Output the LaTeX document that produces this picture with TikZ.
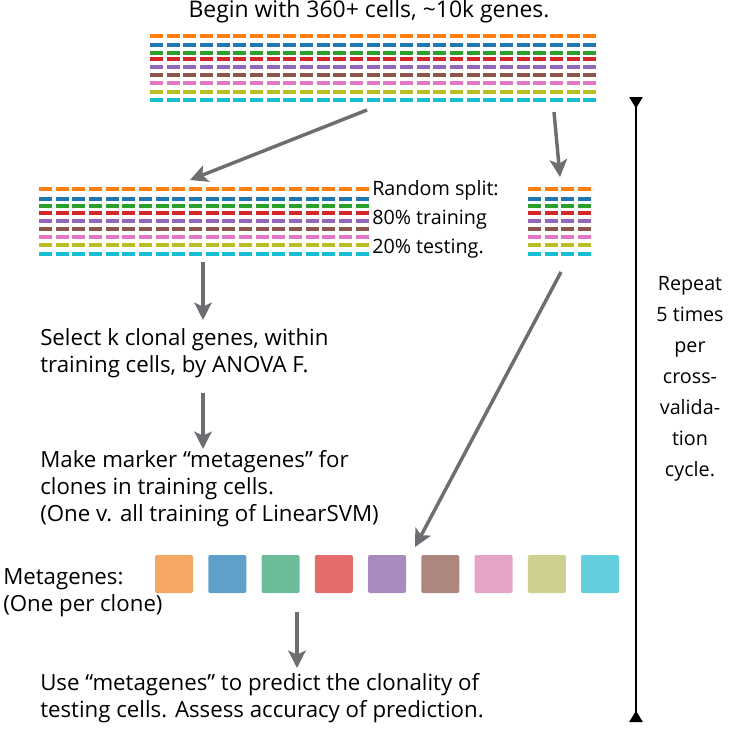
\documentclass[tikz,border=0pt]{standalone}
\usepackage{fontspec}
\setmainfont{Open Sans}
\usetikzlibrary{arrows.meta}

% tab10 colours for the gene rows
\definecolor{rowOrange}{HTML}{FF7F0E}
\definecolor{rowBlue}{HTML}{1F77B4}
\definecolor{rowGreen}{HTML}{2CA02C}
\definecolor{rowRed}{HTML}{D62728}
\definecolor{rowPurple}{HTML}{9467BD}
\definecolor{rowBrown}{HTML}{8C564B}
\definecolor{rowPink}{HTML}{E377C2}
\definecolor{rowOlive}{HTML}{BCBD22}
\definecolor{rowCyan}{HTML}{17BECF}
% lighter ones for the metagene squares
\definecolor{metaOrange}{HTML}{F6A866}
\definecolor{metaBlue}{HTML}{5FA0CB}
\definecolor{metaGreen}{HTML}{6ABD98}
\definecolor{metaRed}{HTML}{E36B6A}
\definecolor{metaPurple}{HTML}{A98ABE}
\definecolor{metaBrown}{HTML}{AD877E}
\definecolor{metaPink}{HTML}{E4A4C8}
\definecolor{metaOlive}{HTML}{CDD090}
\definecolor{metaCyan}{HTML}{63CFDD}
\definecolor{flowgray}{HTML}{6D6E71}

\tikzset{
  flow/.style={draw=flowgray, line width=2.6pt, -{Stealth[length=13pt,width=13pt,inset=3pt]}},
  txt/.style={inner sep=0pt, anchor=west, align=left, font=\fontsize{16.7}{20.25}\selectfont},
  sidetxt/.style={inner sep=0pt, anchor=west, align=left, font=\fontsize{14.8}{21.75}\selectfont},
}

\begin{document}
\begin{tikzpicture}[x=0.75pt, y=-0.75pt]
\useasboundingbox (0,0) rectangle (734,728);

% cells x genes, full set
\draw[rowOrange, opacity=0.25, line width=0.75pt] (150,35.7) -- (597,35.7);
\foreach \c/\dy in {rowOrange/0, rowBlue/9, rowGreen/17, rowRed/23, rowPurple/31, rowBrown/39, rowPink/47, rowOlive/56, rowCyan/64}
  \foreach \k in {0,...,26}
    \fill[\c] (150+16.67*\k, 33.7+\dy) rectangle ++(13,4);

% training part
\draw[rowOrange, opacity=0.25, line width=0.75pt] (39,189) -- (368,189);
\foreach \c/\dy in {rowOrange/0, rowBlue/10, rowGreen/17, rowRed/23.7, rowPurple/31.7, rowBrown/39.7, rowPink/47.7, rowOlive/55.7, rowCyan/64.7}
  \foreach \k in {0,...,19}
    \fill[\c] (39+16.67*\k, 187+\dy) rectangle ++(13,4);

% testing part
\draw[rowOrange, opacity=0.25, line width=0.75pt] (528,189) -- (594,189);
\foreach \c/\dy in {rowOrange/0, rowBlue/10, rowGreen/17, rowRed/23.7, rowPurple/31.7, rowBrown/39.7, rowPink/47.7, rowOlive/55.7, rowCyan/64.7}
  \foreach \k in {0,...,3}
    \fill[\c] (528+16.67*\k, 187+\dy) rectangle ++(13,4);

% metagenes
\foreach \c [count=\i from 0] in {metaOrange, metaBlue, metaGreen, metaRed, metaPurple, metaBrown, metaPink, metaOlive, metaCyan}
  \fill[\c, rounded corners=1.5pt] (155+53.25*\i, 555) rectangle ++(38,38);

% texts
\node[txt, anchor=center, font=\fontsize{17.2}{20.25}\selectfont] (begin) at (369,12) {Begin with 360+ cells, \textasciitilde10k genes.};
\node[sidetxt] (split) at (372,219) {Random split:\\80\% training\\20\% testing.};
\node[txt] (select) at (40,353.5) {Select k clonal genes, within\\training cells, by ANOVA F.};
\node[txt] (make) at (40,489) {Make marker “metagenes” for\\clones in training cells.\\(One v. all training of LinearSVM)};
\node[txt] (metalbl) at (3,593) {Metagenes:\\(One per clone)};
\node[txt] (use) at (40,698) {Use “metagenes” to predict the clonality of\\testing cells.  Assess accuracy of prediction.};
\node[sidetxt, anchor=center, align=center, font=\fontsize{14.8}{23.25}\selectfont] (repeat) at (690,379) {Repeat\\5 times\\per\\cross-\\valida-\\tion\\cycle.};

% arrow ends
\coordinate (all-l) at (367,110);
\coordinate (train-in) at (190,180);
\coordinate (all-r) at (554,112);
\coordinate (test-in) at (560,177);
\coordinate (train-out) at (203,262);
\coordinate (select-in) at (203,320);
\coordinate (select-out) at (203,393);
\coordinate (make-in) at (203,449);
\coordinate (test-out) at (561,272);
\coordinate (meta-in) at (415,547);
\coordinate (meta-out) at (297,612);
\coordinate (use-in) at (297,668);
\coordinate (cv-top) at (636,97);
\coordinate (cv-bot) at (636,722);

\draw[flow] (all-l) -- (train-in);
\draw[flow] (all-r) -- (test-in);
\draw[flow] (train-out) -- (select-in);
\draw[flow] (select-out) -- (make-in);
\draw[flow] (test-out) -- (meta-in);
\draw[flow] (meta-out) -- (use-in);

\draw[line width=1.1pt, {Triangle[reversed, length=8.5pt, width=10pt]}-{Triangle[reversed, length=8.5pt, width=10pt]}] (cv-top) -- (cv-bot);
\end{tikzpicture}
\end{document}
